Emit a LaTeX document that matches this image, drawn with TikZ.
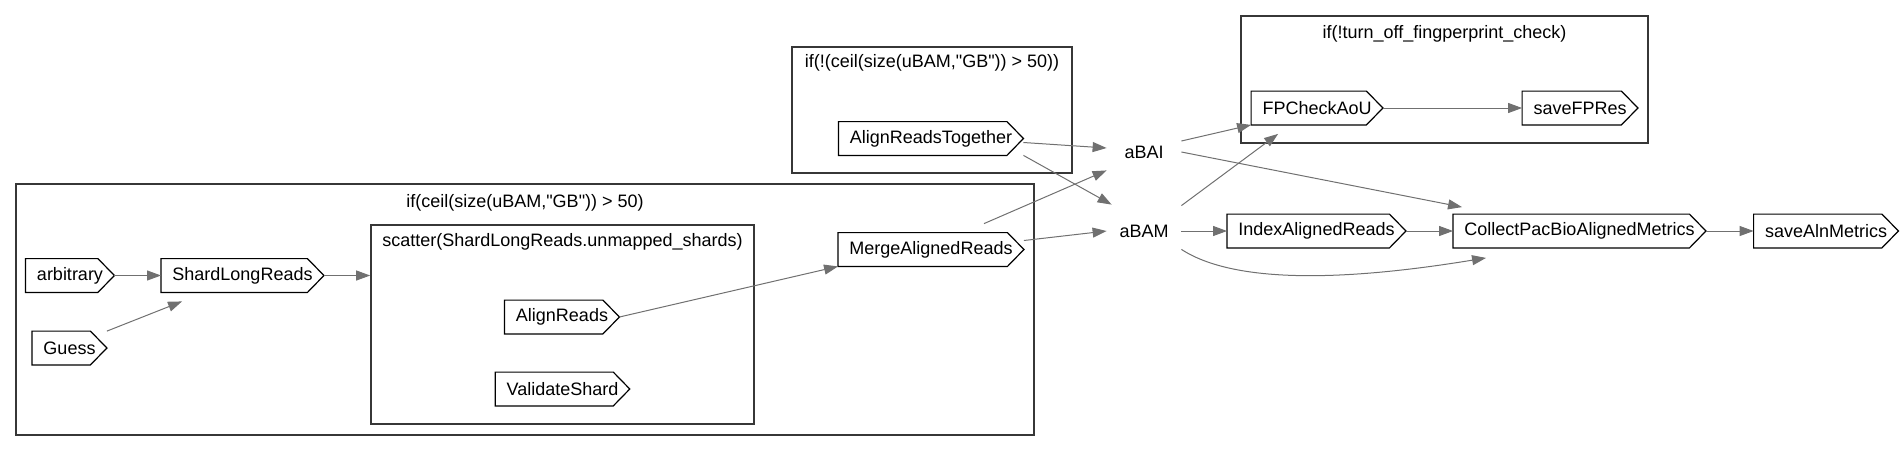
\documentclass[tikz,border=0pt]{standalone}
\usepackage{fontspec}
\setmainfont{Liberation Sans}
\usetikzlibrary{arrows.meta,fit}
\definecolor{edgegray}{RGB}{112,112,112}
\definecolor{boxline}{RGB}{55,55,55}
\tikzset{
  task/.style={minimum height=16.5pt, inner xsep=5.5pt, inner ysep=0pt},
  taskline/.style={draw=black, line width=0.6pt},
  vartext/.style={minimum width=37pt, minimum height=18pt, inner sep=0pt},
  cluster/.style={draw=boxline, line width=0.8pt, inner sep=0pt},
  flow/.style={draw=edgegray, line width=0.5pt, -{Triangle[length=7pt,width=5pt]}},
}

\begin{document}
\begin{tikzpicture}[x=0.5pt,y=-0.5pt,font=\fontsize{9}{11}\selectfont]
\useasboundingbox (0,0) rectangle (1904,451);

%%CLUSTERS
\node[cluster, fit={(16,184) (1034,435)}] (bigshard) {};
\node (bigshardlbl) at (525,203) {if(ceil(size(uBAM,\textquotedbl GB\textquotedbl)) > 50)};
\node[cluster, fit={(371,225) (754,424)}] (scatter) {};
\node (scatterlbl) at (562.5,242) {scatter(ShardLongReads.unmapped\_shards)};
\node[cluster, fit={(792,47) (1072,173)}] (small) {};
\node (smalllbl) at (932,63) {if(!(ceil(size(uBAM,\textquotedbl GB\textquotedbl)) > 50))};
\node[cluster, fit={(1241,16) (1648,143)}] (fprint) {};
\node (fprintlbl) at (1444.5,34) {if(!turn\_off\_fingperprint\_check)};

%%TASKS
\node[task] (arbitrary) at (70,275.5) {arbitrary};
\node[task] (guess) at (69.5,348) {Guess};
\node[task] (shard) at (242.5,275.5) {ShardLongReads};
\node[task] (alignreads) at (562,317) {AlignReads};
\node[task] (validate) at (562.5,389) {ValidateShard};
\node[task] (merge) at (931,249.5) {MergeAlignedReads};
\node[task] (aligntog) at (931,138.5) {AlignReadsTogether};
\node[task] (fpcheck) at (1317,108) {FPCheckAoU};
\node[task] (savefp) at (1580,108) {saveFPRes};
\node[task] (index) at (1316.5,231) {IndexAlignedReads};
\node[task] (collect) at (1579.5,231) {CollectPacBioAlignedMetrics};
\node[task] (savealn) at (1826,231) {saveAlnMetrics};

% Outline
\foreach \n in {arbitrary,guess,shard,alignreads,validate,merge,aligntog,fpcheck,savefp,index,collect,savealn}
  \draw[taskline] (\n.north west) -- ([xshift=-8.25pt]\n.north east) -- (\n.east)
    -- ([xshift=-8.25pt]\n.south east) -- (\n.south west) -- cycle;

%%OUTPUTS
\node[vartext] (abai) at (1144,152) {aBAI};
\node[vartext] (abam) at (1144,231) {aBAM};

%%EDGES
\draw[flow] (arbitrary) -- (shard);
\draw[flow] (guess.north east) -- ([shift={(21,9)}]shard.south west);
\draw[flow] (shard.east) -- (shard.east -| scatter.west);
\draw[flow] (alignreads.east) -- (merge.south west);
\draw[flow] ([yshift=4.5pt]merge.east) -- (abam.west);
\draw[flow] ([shift={(53,-9)}]merge.north) -- (abai.south west);
\draw[flow] ([yshift=-2pt]aligntog.east) -- ([yshift=2pt]abai.west);
\draw[flow] (aligntog.south east) -- ([shift={(5,-8)}]abam.north west);
\draw[flow] ([yshift=5.5pt]abai.east) -- (fpcheck.south west);
\draw[flow] (abai.east) -- ([shift={(9,-7)}]collect.north west);
\draw[flow] ([yshift=3.5pt]abam.north east) -- ([shift={(27,9)}]fpcheck.south west);
\draw[flow] (abam) -- (index);
\draw[flow] (index) -- (collect);
\draw[flow] (abam.south east) .. controls +(60,39) and +(-116,19) .. ([shift={(33,10)}]collect.south west);
\draw[flow] (collect) -- (savealn);
\draw[flow] (fpcheck) -- (savefp);
\end{tikzpicture}
\end{document}
